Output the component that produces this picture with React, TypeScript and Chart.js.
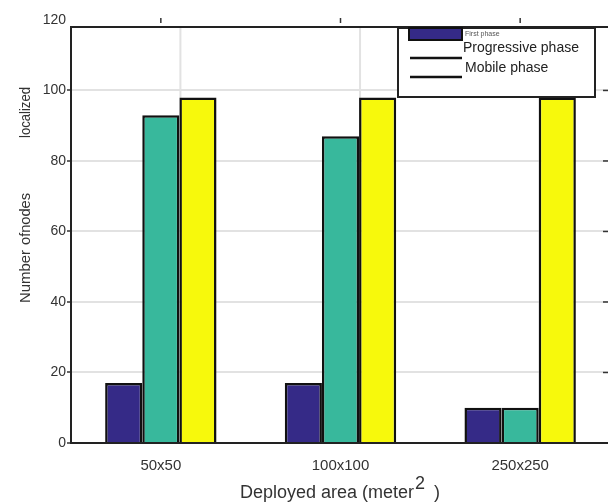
import React, { useEffect, useRef } from "react";
import { Chart, registerables } from "chart.js";
Chart.register(...registerables);

const categories = ["50x50", "100x100", "250x250"];
const firstPhase = [17, 17, 10];
const progressivePhase = [93, 87, 10];
const mobilePhase = [98, 98, 98];
const yTicks = [0, 20, 40, 60, 80, 100, 120];
const seriesNames = ["First phase", "Progressive phase", "Mobile phase"];
const seriesColors = ["#352a87", "#38b89c", "#f7f90c"];

const FONT = "'Liberation Sans', Arial, sans-serif";

export default function App() {
  const ref = useRef<HTMLCanvasElement>(null);
  useEffect(() => {
    const decor = {
      id: "decor",
      beforeDatasetsDraw(chart: any) {
        const ctx = chart.ctx;
        const a = chart.chartArea;
        const meta = chart.getDatasetMeta(1);
        ctx.save();
        ctx.strokeStyle = "#e2e2e2";
        ctx.lineWidth = 2;
        meta.data.forEach((el: any) => {
          const x = el.x + el.width / 2 + 1;
          ctx.beginPath();
          ctx.moveTo(x, a.top);
          ctx.lineTo(x, a.bottom);
          ctx.stroke();
        });
        ctx.restore();
      },
      afterDraw(chart: any) {
        const ctx = chart.ctx;
        const a = chart.chartArea;
        const xs = chart.scales.x;
        const ys = chart.scales.y;
        ctx.save();
        // frame
        ctx.strokeStyle = "#222";
        ctx.lineWidth = 2;
        ctx.strokeRect(a.left, a.top, a.right - a.left, a.bottom - a.top);
        // top ticks
        ctx.lineWidth = 1.5;
        ctx.strokeStyle = "#333";
        categories.forEach((_, i) => {
          const x = xs.getPixelForValue(i);
          ctx.beginPath();
          ctx.moveTo(x, a.top - 9);
          ctx.lineTo(x, a.top - 4);
          ctx.stroke();
        });
        // right ticks
        yTicks.forEach((v) => {
          if (v === 0 || v > ys.max) return;
          const y = ys.getPixelForValue(v);
          ctx.beginPath();
          ctx.moveTo(a.right - 7, y);
          ctx.lineTo(a.right, y);
          ctx.stroke();
        });
        // legend
        const lx = 398, ly = a.top + 1, lw = 197, lh = 69;
        ctx.fillStyle = "#fff";
        ctx.fillRect(lx, ly, lw, lh);
        ctx.strokeStyle = "#222";
        ctx.lineWidth = 2;
        ctx.strokeRect(lx, ly, lw, lh);
        ctx.fillStyle = seriesColors[0];
        ctx.fillRect(lx + 11, ly, 53, 12);
        ctx.strokeStyle = "#111";
        ctx.strokeRect(lx + 11, ly, 53, 12);
        ctx.fillStyle = "#555";
        ctx.textBaseline = "middle";
        ctx.textAlign = "left";
        ctx.font = `7px ${FONT}`;
        ctx.fillText(seriesNames[0], lx + 67, ly + 6);
        ctx.strokeStyle = "#111";
        ctx.lineWidth = 2.5;
        ctx.beginPath();
        ctx.moveTo(lx + 12, ly + 30);
        ctx.lineTo(lx + 64, ly + 30);
        ctx.moveTo(lx + 12, ly + 49);
        ctx.lineTo(lx + 64, ly + 49);
        ctx.stroke();
        ctx.fillStyle = "#222";
        ctx.font = `14px ${FONT}`;
        ctx.fillText(seriesNames[1], lx + 65, ly + 20);
        ctx.fillText(seriesNames[2], lx + 67, ly + 40);
        // x title
        ctx.fillStyle = "#333";
        ctx.font = `18px ${FONT}`;
        const t1 = "Deployed area (meter";
        const t2 = "2";
        const t3 = "  )";
        const w1 = ctx.measureText(t1).width;
        const w2 = ctx.measureText(t2).width;
        const x0 = 240;
        ctx.textBaseline = "alphabetic";
        ctx.fillText(t1, x0, 498);
        ctx.fillText(t2, x0 + w1 + 1, 489);
        ctx.fillText(t3, x0 + w1 + w2, 498);
        // y title
        ctx.translate(30, 303);
        ctx.rotate(-Math.PI / 2);
        ctx.font = `15px ${FONT}`;
        ctx.fillText("Number", 0, 0, 53);
        ctx.fillText("ofnodes", 58, 0, 52);
        ctx.fillText("localized", 165, 0, 51);
        ctx.restore();
      },
    };

    const chart = new Chart(ref.current as HTMLCanvasElement, {
      type: "bar",
      data: {
        labels: categories,
        datasets: [firstPhase, progressivePhase, mobilePhase].map((d, i) => ({
          label: seriesNames[i],
          data: d,
          backgroundColor: seriesColors[i],
          borderColor: "#111",
          borderWidth: 2.5,
          categoryPercentage: 0.62,
          barPercentage: 1.0,
        })),
      },
      options: {
        responsive: false,
        animation: false,
        layout: { padding: { top: 27, right: 4, left: 0, bottom: 0 } },
        plugins: { legend: { display: false }, tooltip: { enabled: false } },
        scales: {
          x: {
            grid: { display: false, drawTicks: false },
            border: { display: false },
            ticks: { font: { family: FONT, size: 15 }, color: "#333", padding: 14 },
            afterFit: (s: any) => {
              s.height = 61;
            },
          },
          y: {
            min: 0,
            max: 118,
            afterBuildTicks: (s: any) => {
              s.ticks = yTicks.map((v) => ({ value: v }));
            },
            grid: {
              color: (c: any) =>
                c.tick && (c.tick.value === 0 || c.tick.value > 118) ? "rgba(0,0,0,0)" : "#e2e2e2",
              tickColor: (c: any) => (c.tick && c.tick.value > 118 ? "rgba(0,0,0,0)" : "#333"),
              lineWidth: 2,
              tickLength: 4,
              tickWidth: 1.5,
            },
            border: { display: false },
            ticks: { font: { family: FONT, size: 14 }, color: "#333", padding: 1 },
            afterFit: (s: any) => {
              s.width = 71;
            },
          },
        },
      },
      plugins: [decor],
    });
    return () => chart.destroy();
  }, []);

  return (
    <div style={{ position: "fixed", left: 0, top: 0, width: 608, height: 504, overflow: "hidden", background: "#fff" }}>
      <canvas ref={ref} width={614} height={504} style={{ display: "block" }} />
    </div>
  );
}
